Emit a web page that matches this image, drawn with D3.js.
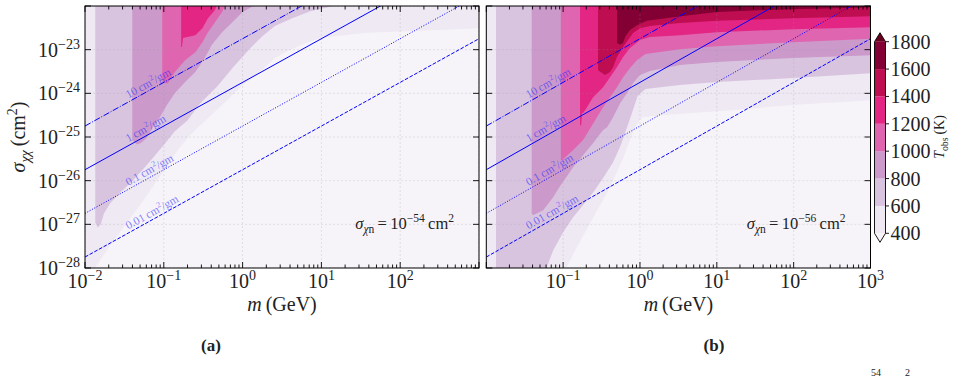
<!DOCTYPE html>
<html>
<head>
<meta charset="utf-8">
<script src="https://cdn.jsdelivr.net/npm/d3@7"></script>
<style>
  html, body { margin: 0; padding: 0; background: #fff; }
  svg { display: block; font-family: "Liberation Serif", "DejaVu Serif", serif; }
</style>
</head>
<body>
<svg id="fig" width="953" height="380" font-family="Liberation Serif, DejaVu Serif, serif"></svg>
<script>
/* ── Data ─────────────────────────────────────────────────────────── */
// contour levels of T_obs (K)
const LEVELS = [400, 600, 800, 1000, 1200, 1400, 1600, 1800];

// Region T >= level, as outlines of [log10 m/GeV, log10 sigma/cm^2]
// (a) sigma_chi-n = 1e-54 cm^2
const A400 = [[-2.1,-21.9],[-2.1,-28.1],[-1.90,-28.1],[-1.87,-27.99],[-1.68,-27.48],[-1.49,-27.02],[-1.30,-26.56],[-1.15,-26.17],[-0.98,-25.72],[-0.82,-25.30],[-0.67,-24.96],[-0.44,-24.57],[-0.22,-24.20],[-0.01,-23.83],[0.20,-23.54],[0.41,-23.19],[0.60,-23.01],[0.80,-22.85],[0.99,-22.73],[1.53,-22.62],[2.17,-22.57],[3.1,-22.50],[3.1,-21.9]];
const A600 = [[-1.87,-21.9],[-1.87,-26.95],[-1.84,-27.07],[-1.80,-27.00],[-1.76,-26.75],[-1.68,-26.52],[-1.56,-26.29],[-1.39,-25.99],[-1.24,-25.69],[-1.11,-25.42],[-0.98,-25.14],[-0.86,-24.87],[-0.70,-24.62],[-0.54,-24.23],[-0.32,-23.84],[-0.12,-23.40],[0.10,-22.96],[0.25,-22.69],[0.41,-22.46],[0.63,-22.28],[0.86,-22.12],[1.11,-22.02],[1.30,-21.9]];
const A800 = [[-1.40,-21.9],[-1.40,-25.07],[-1.34,-25.17],[-1.29,-25.14],[-1.21,-25.01],[-1.14,-24.78],[-1.05,-24.55],[-0.96,-24.27],[-0.86,-24.00],[-0.73,-23.74],[-0.60,-23.51],[-0.48,-23.19],[-0.39,-22.89],[-0.26,-22.60],[-0.13,-22.37],[0.00,-22.14],[0.12,-22.02],[0.20,-21.9]];
const A1000 = [[-1.02,-21.9],[-1.02,-23.70],[-0.98,-23.77],[-0.95,-23.77],[-0.86,-23.51],[-0.73,-23.24],[-0.60,-23.06],[-0.51,-22.83],[-0.44,-22.60],[-0.35,-22.37],[-0.26,-22.14],[-0.20,-21.9]];
const A1200 = [[-0.78,-21.9],[-0.78,-22.94],[-0.77,-22.94],[-0.755,-22.73],[-0.60,-22.67],[-0.51,-22.51],[-0.44,-22.28],[-0.35,-22.09],[-0.31,-21.9]];

// (b) sigma_chi-n = 1e-56 cm^2
const B400 = [[-2.1,-21.9],[-2.1,-28.1],[-0.99,-28.1],[-0.845,-27.60],[-0.715,-27.18],[-0.585,-26.77],[-0.455,-26.36],[-0.325,-25.90],[-0.22,-25.49],[-0.13,-25.07],[-0.05,-24.73],[0.03,-24.55],[0.26,-24.50],[1.0,-24.41],[1.99,-24.27],[3.1,-24.15],[3.1,-21.9]];
const B600 = [[-1.874,-21.9],[-1.874,-28.1],[-1.24,-28.1],[-1.13,-27.60],[-1.00,-27.18],[-0.87,-26.84],[-0.74,-26.56],[-0.61,-26.27],[-0.48,-25.94],[-0.35,-25.58],[-0.26,-25.23],[-0.18,-24.84],[-0.10,-24.43],[-0.03,-24.06],[0.07,-23.90],[0.52,-23.81],[1.0,-23.74],[1.99,-23.65],[3.1,-23.53],[3.1,-21.9]];
const B800 = [[-1.41,-21.9],[-1.41,-26.75],[-1.39,-26.79],[-1.26,-26.68],[-1.13,-26.38],[-1.05,-26.15],[-0.96,-25.92],[-0.87,-25.69],[-0.74,-25.42],[-0.61,-25.14],[-0.48,-24.84],[-0.43,-24.78],[-0.35,-24.55],[-0.26,-24.23],[-0.17,-24.00],[-0.09,-23.77],[0.00,-23.58],[0.13,-23.49],[0.52,-23.35],[1.0,-23.28],[1.99,-23.19],[3.1,-23.12],[3.1,-21.9]];
const B1000 = [[-1.03,-21.9],[-1.03,-25.53],[-1.01,-25.53],[-0.99,-25.49],[-0.87,-25.30],[-0.74,-25.07],[-0.66,-24.84],[-0.56,-24.55],[-0.48,-24.32],[-0.39,-24.09],[-0.30,-23.86],[-0.22,-23.63],[-0.13,-23.42],[-0.04,-23.24],[0.07,-23.10],[0.52,-22.99],[1.0,-22.92],[1.99,-22.83],[3.1,-22.74],[3.1,-21.9]];
const B1200 = [[-0.78,-21.9],[-0.78,-24.73],[-0.765,-24.73],[-0.754,-24.45],[-0.74,-24.45],[-0.69,-24.32],[-0.61,-24.09],[-0.48,-23.86],[-0.39,-23.63],[-0.30,-23.40],[-0.22,-23.17],[-0.13,-22.96],[0.00,-22.78],[0.13,-22.71],[0.52,-22.67],[1.0,-22.60],[1.99,-22.53],[3.1,-22.48],[3.1,-21.9]];
const B1400 = [[-0.546,-21.9],[-0.546,-23.47],[-0.455,-23.58],[-0.39,-23.51],[-0.35,-23.40],[-0.30,-23.17],[-0.22,-22.94],[-0.155,-22.78],[-0.09,-22.62],[0.00,-22.51],[0.13,-22.46],[0.52,-22.39],[1.0,-22.34],[1.99,-22.28],[3.1,-22.23],[3.1,-21.9]];
const B1600 = [[-0.298,-21.9],[-0.298,-22.85],[-0.26,-22.89],[-0.22,-22.85],[-0.19,-22.69],[-0.13,-22.55],[-0.04,-22.44],[0.09,-22.34],[0.26,-22.30],[0.56,-22.23],[1.0,-22.14],[1.65,-22.09],[2.08,-22.07],[3.1,-22.03],[3.1,-21.9]];

// reference lines sigma/m (cm^2/g)
const SIDM_VALUES = [10, 1, 0.1, 0.01];
const SIDM_LABELS = ['10', '1', '0.1', '0.01'];
const GEV_IN_G = 1.783e-24;
const LABEL_MASS = 0.037;   // where the line labels start (GeV)

const X_TICKS_A = [-2, -1, 0, 1, 2];
const X_TICKS_B = [-1, 0, 1, 2, 3];
const Y_TICKS = [-23, -24, -25, -26, -27, -28];

/* ── Colours (PuRd, contourf-style layer midpoints) ─────────────── */
const PURD = ['#f7f4f9','#e7e1ef','#d4b9da','#c994c7','#df65b0','#e7298a','#ce1256','#980043','#67001f'];
const cmap = d3.piecewise(d3.interpolateRgb, PURD);
const norm = d3.scaleLinear().domain([LEVELS[0], LEVELS[LEVELS.length - 1]]).range([0, 1]);
const bandColor = i => cmap(norm((LEVELS[i] + LEVELS[i + 1]) / 2));
const UNDER = cmap(0), OVER = cmap(1);

const svg = d3.select('#fig');
const TOP = 6, BOTTOM = 268;
const FS = 20;

// mathtext-ish runs: [text, 'sup'|'sub'|'', italic]
function rich(sel, parts, fs) {
  let shift = 0;
  parts.forEach(([s, kind, it]) => {
    let target = 0, size = fs;
    if (kind === 'sup') { target = -0.4 * fs; size = 0.7 * fs; }
    if (kind === 'sub') { target = 0.25 * fs; size = 0.7 * fs; }
    const ts = sel.append('tspan').text(s).attr('font-size', size);
    if (target - shift !== 0) ts.attr('dy', target - shift);
    if (it) ts.attr('font-style', 'italic');
    shift = target;
  });
  return sel;
}

const panels = [
  { id: 'a', left: 85,    right: 479,   bands: [A400, A600, A800, A1000, A1200],
    xTicks: X_TICKS_A, yLabels: true,  exp: '\u221254', tag: '(a)' },
  { id: 'b', left: 486.3, right: 870.5, bands: [B400, B600, B800, B1000, B1200, B1400, B1600],
    xTicks: X_TICKS_B, yLabels: false, exp: '\u221256', tag: '(b)' },
];

/* ── Panels ──────────────────────────────────────────────────────── */
panels.forEach(p => {
  const x = d3.scaleLog().domain([1e-2, 1e3]).range([p.left, p.right]);
  const y = d3.scaleLog().domain([1e-28, 1e-22]).range([BOTTOM, TOP]);
  const g = svg.append('g');

  g.append('clipPath').attr('id', 'clip-' + p.id)
    .append('rect').attr('x', p.left).attr('y', TOP)
    .attr('width', p.right - p.left).attr('height', BOTTOM - TOP);

  const plot = g.append('g').attr('clip-path', `url(#clip-${p.id})`);
  plot.append('rect').attr('x', p.left).attr('y', TOP)
    .attr('width', p.right - p.left).attr('height', BOTTOM - TOP).attr('fill', UNDER);

  const outline = d3.line().x(d => x(10 ** d[0])).y(d => y(10 ** d[1]));
  p.bands.forEach((pts, i) => {
    plot.append('path').attr('d', outline(pts) + 'Z').attr('fill', bandColor(i));
  });

  // grid
  const decX = d3.range(-2, 4), decY = d3.range(-28, -21);
  plot.selectAll('.gx').data(decX).join('line')
    .attr('x1', d => x(10 ** d)).attr('x2', d => x(10 ** d))
    .attr('y1', TOP).attr('y2', BOTTOM)
    .attr('stroke', '#999').attr('stroke-opacity', 0.3)
    .attr('stroke-width', 0.8).attr('stroke-dasharray', '2,2');
  plot.selectAll('.gy').data(decY).join('line')
    .attr('y1', d => y(10 ** d)).attr('y2', d => y(10 ** d))
    .attr('x1', p.left).attr('x2', p.right)
    .attr('stroke', '#999').attr('stroke-opacity', 0.3)
    .attr('stroke-width', 0.8).attr('stroke-dasharray', '2,2');

  // sigma/m lines
  const dashes = ['6.4,1.6,1,1.6', null, '1,1.65', '3.7,1.6'];
  const mEnds = [1e-2, 1e3];
  SIDM_VALUES.forEach((k, i) => {
    const pts = mEnds.map(m => [m, k * GEV_IN_G * m]);
    plot.append('path')
      .attr('d', d3.line().x(d => x(d[0])).y(d => y(d[1]))(pts))
      .attr('fill', 'none').attr('stroke', '#0000ff').attr('stroke-width', 1)
      .attr('stroke-dasharray', dashes[i]);

    const ang = Math.atan2(y(pts[1][1]) - y(pts[0][1]), x(pts[1][0]) - x(pts[0][0])) * 180 / Math.PI;
    const lx = x(LABEL_MASS), ly = y(k * GEV_IN_G * LABEL_MASS);
    const t = plot.append('text')
      .attr('transform', `translate(${lx},${ly}) rotate(${ang}) translate(0,-3)`)
      .attr('fill', '#2b2bff').attr('fill-opacity', 0.6);
    rich(t, [[SIDM_LABELS[i] + '\u2009cm'], ['2', 'sup'], ['/gm']], 11.5);
  });

  // annotation
  const ann = g.append('text').attr('x', p.right - 25).attr('y', 229)
    .attr('text-anchor', 'end').attr('fill', '#222');
  rich(ann, [['\u03c3', '', true], ['\u03c7', 'sub', true], ['n', 'sub'],
             ['\u2009=\u200910'], [p.exp, 'sup'], ['\u2009cm'], ['2', 'sup']], 16.5);

  // frame
  g.append('rect').attr('x', p.left).attr('y', TOP)
    .attr('width', p.right - p.left).attr('height', BOTTOM - TOP)
    .attr('fill', 'none').attr('stroke', '#000').attr('stroke-width', 1);

  // x ticks (top + bottom, inward)
  const minor = [];
  decX.slice(0, -1).forEach(e => d3.range(2, 10).forEach(k => minor.push(k * 10 ** e)));
  const ticks = g.append('g').attr('stroke', '#000').attr('stroke-width', 0.9);
  [[BOTTOM, -1], [TOP, 1]].forEach(([y0, dir]) => {
    decX.forEach(e => ticks.append('line').attr('x1', x(10 ** e)).attr('x2', x(10 ** e))
      .attr('y1', y0).attr('y2', y0 + dir * 6));
    minor.forEach(m => ticks.append('line').attr('x1', x(m)).attr('x2', x(m))
      .attr('y1', y0).attr('y2', y0 + dir * 3.5));
  });
  // y ticks (left + right, inward)
  [[p.left, 1], [p.right, -1]].forEach(([x0, dir]) => {
    decY.forEach(e => ticks.append('line').attr('y1', y(10 ** e)).attr('y2', y(10 ** e))
      .attr('x1', x0).attr('x2', x0 + dir * 6));
  });

  // tick labels
  p.xTicks.forEach(e => {
    const t = g.append('text').attr('x', x(10 ** e)).attr('y', 288)
      .attr('text-anchor', 'middle').attr('fill', '#222');
    rich(t, [['10'], [e < 0 ? '\u2212' + (-e) : String(e), 'sup']], FS);
  });
  if (p.yLabels) {
    Y_TICKS.forEach(e => {
      const t = g.append('text').attr('x', p.left - 5).attr('y', y(10 ** e) + 7)
        .attr('text-anchor', 'end').attr('fill', '#222');
      rich(t, [['10'], ['\u2212' + (-e), 'sup']], FS);
    });
    const yl = g.append('text')
      .attr('transform', `translate(25,${(TOP + BOTTOM) / 2}) rotate(-90)`)
      .attr('text-anchor', 'middle').attr('fill', '#222');
    rich(yl, [['\u03c3', '', true], ['\u03c7\u03c7', 'sub', true], ['\u2009(cm'], ['2', 'sup'], [')']], FS);
  }

  const xl = g.append('text').attr('x', (p.left + p.right) / 2).attr('y', 311)
    .attr('text-anchor', 'middle').attr('fill', '#222');
  rich(xl, [['m', '', true], ['\u2009(GeV)']], FS);

  g.append('text').attr('x', p.id === 'a' ? 211 : 714).attr('y', 351)
    .attr('text-anchor', 'middle').attr('font-weight', 'bold').attr('font-size', 17)
    .attr('fill', '#222').text(p.tag);
});

/* ── Colour bar ──────────────────────────────────────────────────── */
const cbX = 874.5, cbW = 11;
const cb = d3.scaleLinear().domain([LEVELS[0], LEVELS[LEVELS.length - 1]]).range([233.3, 41.7]);
const cbg = svg.append('g');
d3.range(LEVELS.length - 1).forEach(i => {
  cbg.append('rect').attr('x', cbX).attr('width', cbW)
    .attr('y', cb(LEVELS[i + 1])).attr('height', cb(LEVELS[i]) - cb(LEVELS[i + 1]))
    .attr('fill', bandColor(i));
});
const lo = cb(LEVELS[0]), hi = cb(LEVELS[LEVELS.length - 1]);
cbg.append('path').attr('d', `M${cbX},${hi}L${cbX + cbW / 2},${hi - 9}L${cbX + cbW},${hi}Z`).attr('fill', OVER);
cbg.append('path').attr('d', `M${cbX},${lo}L${cbX + cbW / 2},${lo + 9}L${cbX + cbW},${lo}Z`).attr('fill', UNDER);
cbg.append('path')
  .attr('d', `M${cbX},${hi}L${cbX + cbW / 2},${hi - 9}L${cbX + cbW},${hi}L${cbX + cbW},${lo}L${cbX + cbW / 2},${lo + 9}L${cbX},${lo}Z`)
  .attr('fill', 'none').attr('stroke', '#000').attr('stroke-width', 0.9);
LEVELS.forEach(v => {
  cbg.append('line').attr('x1', cbX + cbW).attr('x2', cbX + cbW + 3.5)
    .attr('y1', cb(v)).attr('y2', cb(v)).attr('stroke', '#000').attr('stroke-width', 0.9);
  cbg.append('text').attr('x', cbX + cbW + 5).attr('y', cb(v) + 7)
    .attr('font-size', FS).attr('fill', '#222').text(v);
});
const cbl = cbg.append('text').attr('transform', 'translate(944,137) rotate(-90)')
  .attr('text-anchor', 'middle').attr('fill', '#222');
rich(cbl, [['T', '', true], ['obs', 'sub'], ['\u2009(K)']], 14);

// caption fragment at the bottom edge
svg.append('text').attr('x', 871).attr('y', 376).attr('font-size', 10).attr('fill', '#222').text('54');
svg.append('text').attr('x', 905).attr('y', 376).attr('font-size', 10).attr('fill', '#222').text('2');
</script>
</body>
</html>
